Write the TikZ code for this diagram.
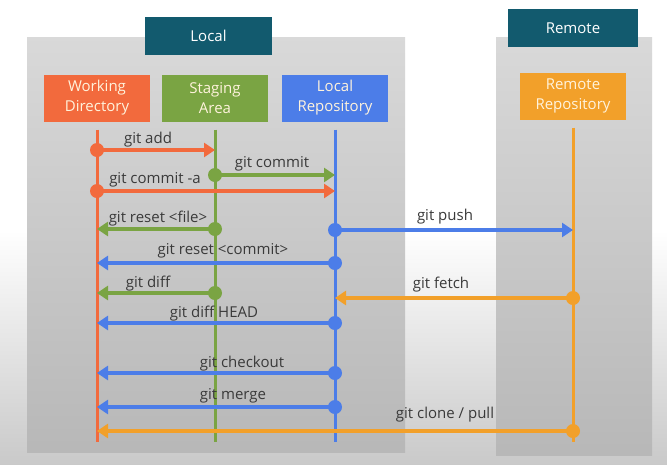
\documentclass[tikz,border=0pt]{standalone}
\usepackage{fontspec}
\setmainfont{Open Sans}
\usetikzlibrary{arrows.meta}
\definecolor{wdorange}{HTML}{F26A3D}
\definecolor{sagreen}{HTML}{7AA443}
\definecolor{lrblue}{HTML}{4C7DE8}
\definecolor{rrorange}{HTML}{F2A02A}
\definecolor{headteal}{HTML}{125A6E}
\definecolor{boxtext}{HTML}{FFF3DC}
\definecolor{cmdtext}{HTML}{3A3A3A}

\tikzset{
  repobox/.style={minimum width=106pt, minimum height=47pt, inner sep=0pt,
    align=center, text=boxtext, font=\fontsize{15}{20}\selectfont},
  headbox/.style={fill=headteal, text=white, minimum width=127pt,
    minimum height=38pt, font=\fontsize{15}{18}\selectfont},
  lifeline/.style={line width=3pt},
  cmdarrow/.style={line width=3.3pt, -{Triangle[length=11pt,width=14pt]}},
  cmddot/.style={circle, fill, inner sep=0pt, minimum size=14pt},
  cmdlabel/.style={text=cmdtext, anchor=base, font=\fontsize{15}{18}\selectfont}
}

\begin{document}
\begin{tikzpicture}[x=1pt,y=-1pt]
	\useasboundingbox (0,0) rectangle (667,464);
	%BACKGROUND
	\fill[white] (0,0) rectangle (667,230);
	\shade[top color=white, bottom color=gray!42] (0,230) rectangle (667,464);
	\shade[top color=gray!30, bottom color=gray!56] (27,37) rectangle (405,452);
	\shade[top color=gray!30, bottom color=gray!56] (496,37) rectangle (652,455);
	
	%HEADERS
	\node[headbox] (local) at (208.5,36) {Local};
	\node[headbox, minimum width=130pt] (remote) at (573,28) {Remote};
	
	%REPOSITORIES
	\node[repobox, fill=wdorange] (wd) at (97,98) {Working\\Directory};
	\node[repobox, fill=sagreen] (sa) at (215,98) {Staging\\Area};
	\node[repobox, fill=lrblue] (lr) at (335,98) {Local\\Repository};
	\node[repobox, fill=rrorange] (rr) at (573,96) {Remote\\Repository};
	
	%LIFELINES
	\foreach \n/\c in {wd/wdorange, sa/sagreen, lr/lrblue, rr/rrorange}
		\draw[lifeline,\c] ([yshift=-8pt]\n.south) -- (\n.south |- 0,442);
	
	%COMMANDS
	\foreach \y/\a/\b/\c/\t/\lx/\ly in {
		150/wd/sa/wdorange/git add/148/143,
		175/sa/lr/sagreen/git commit/272/167,
		191/wd/lr/wdorange/git commit -a/155/183,
		229/sa/wd/sagreen/git reset <file>/158/222,
		230/lr/rr/lrblue/git push/445/220,
		263/lr/wd/lrblue/git reset <commit>/223/254,
		293/sa/wd/sagreen/git diff/148/287,
		298/rr/lr/rrorange/git fetch/441/288,
		323/lr/wd/lrblue/git diff HEAD/214/317,
		373/lr/wd/lrblue/git checkout/242/367,
		407/lr/wd/lrblue/git merge/233/399,
		431/rr/wd/rrorange/{git clone / pull}/445/418}
	{
		\draw[cmdarrow,\c] (\a.south |- 0,\y) node[cmddot]{} -- (\b.south |- 0,\y);
		\node[cmdlabel] at (\lx,\ly) {\t};
	}
\end{tikzpicture}
\end{document}
